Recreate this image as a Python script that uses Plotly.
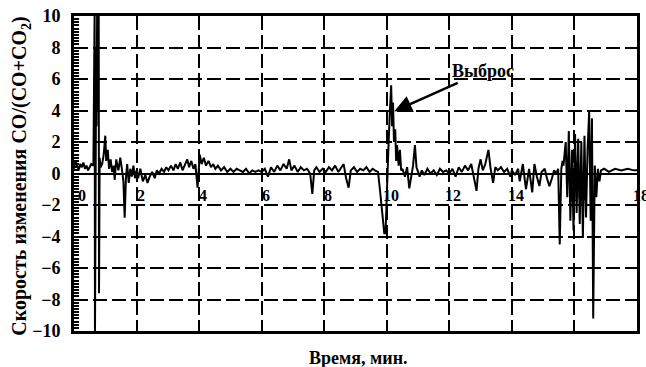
import plotly.graph_objects as go

# Time (min) and rate of change of CO/(CO+CO2)
time_min = [
    0.00, 0.05, 0.10, 0.15, 0.20, 0.25, 0.30, 0.35, 0.40, 0.45, 0.50, 0.55,
    0.62, 0.66, 0.67, 0.69, 0.71, 0.72, 0.74, 0.75, 0.77, 0.79, 0.80, 0.82, 0.85,
    0.90, 0.95, 1.00, 1.03, 1.08, 1.12, 1.17, 1.22, 1.27, 1.30, 1.35, 1.42, 1.48,
    1.53, 1.58, 1.62, 1.66, 1.70, 1.75, 1.80, 1.85, 1.90, 1.95, 2.00,
    2.05, 2.12, 2.20, 2.28, 2.35, 2.42, 2.50, 2.58, 2.65, 2.72, 2.80, 2.88, 2.95,
    3.02, 3.10, 3.18, 3.25, 3.32, 3.40, 3.47, 3.55, 3.62, 3.68, 3.75, 3.82, 3.88,
    3.95, 4.02, 4.08, 4.15, 4.22, 4.30, 4.38, 4.45, 4.52,
    4.60, 4.70, 4.80, 4.90, 5.00, 5.10, 5.20, 5.30, 5.40, 5.50, 5.60, 5.70, 5.80,
    5.90, 6.00,
    6.10, 6.20, 6.30, 6.40, 6.50, 6.60, 6.70, 6.80, 6.88, 6.95, 7.05, 7.15, 7.25,
    7.35, 7.45, 7.55, 7.62, 7.68, 7.75, 7.85, 7.95,
    8.05, 8.15, 8.25, 8.35, 8.45, 8.55, 8.62, 8.70, 8.78, 8.85, 8.95, 9.05, 9.15,
    9.25, 9.35, 9.45, 9.55, 9.62, 9.72, 9.78, 9.85, 9.92, 9.96,
    10.00, 10.05, 10.10, 10.14, 10.17, 10.20, 10.23, 10.27, 10.30, 10.33, 10.38,
    10.42, 10.46, 10.50, 10.58, 10.65, 10.72, 10.78, 10.84, 10.90, 10.95, 11.00,
    11.05, 11.12, 11.20, 11.30, 11.40, 11.50, 11.60, 11.70, 11.80, 11.90, 12.00,
    12.10, 12.20, 12.30, 12.40, 12.50, 12.60, 12.70, 12.80, 12.87, 12.93, 13.00,
    13.07, 13.15, 13.25, 13.32, 13.40, 13.47, 13.55, 13.65, 13.75, 13.85, 13.95,
    14.00, 14.10, 14.20, 14.25, 14.35, 14.45, 14.55, 14.65, 14.72, 14.80, 14.88,
    14.95, 15.05, 15.12, 15.20, 15.28, 15.35, 15.42, 15.48, 15.53, 15.58, 15.62,
    15.65, 15.72, 15.77, 15.82, 15.87, 15.92, 15.97, 16.02, 16.07, 16.12, 16.17,
    16.22, 16.27, 16.32, 16.37, 16.42, 16.47, 16.52, 16.56, 16.60, 16.65, 16.70,
    16.75, 16.80, 16.85, 16.95, 17.10, 17.30, 17.50, 17.70, 17.90, 18.00,
]
rate = [
    0.3, 0.8, 0.5, 0.2, 0.6, 0.4, 0.7, 0.3, 0.5, 0.2, 0.4, 0.6,
    0.5, 10.5, -10.5, 0.8, 8.0, 3.0, 10.5, 4.0, 9.0, 10.5, -7.6, 1.0, 0.4,
    0.6, 1.2, 2.4, 0.8, 1.5, 0.3, 0.9, 0.1, 0.5, -0.4, 0.9, 0.2, 1.0,
    0.3, -0.5, -2.8, -0.3, 0.6, -0.6, 0.3, -0.2, 0.5, -0.3, 0.2,
    -0.3, 0.3, -0.5, -0.1, -0.6, -0.2, 0.1, -0.3, 0.2, 0.0, 0.3, 0.1, 0.4,
    0.2, 0.5, 0.2, 0.6, 0.3, 0.7, 0.2, 0.6, 0.9, 0.4, 0.8, 0.3, 0.6,
    -0.9, 1.2, 0.6, 1.0, 0.5, 0.8, 0.4, 0.6, 0.3,
    0.5, 0.2, 0.4, 0.1, 0.3, 0.1, 0.3, 0.2, 0.1, 0.3, 0.0, 0.2, 0.1,
    0.2, 0.1,
    0.3, -0.2, 0.4, 0.1, 0.5, 0.2, 0.6, 0.3, 0.9, 0.2, 0.5, 0.1, 0.4,
    0.2, 0.3, 0.0, -1.3, 0.2, 0.4, 0.1, 0.3,
    0.1, 0.4, 0.2, 0.5, 0.1, 0.4, 0.6, -0.3, -0.9, 0.2, 0.4, 0.1, 0.3,
    0.2, 0.4, 0.1, 0.3, 0.2, 0.1, -1.0, -2.5, -3.8, -3.8,
    -1.0, 1.5, 4.0, 5.6, 3.0, 4.5, 2.0, 2.8, 0.8, 1.8, 0.5,
    1.5, 0.2, 0.3, -0.2, 0.4, -0.95, -0.2, 0.5, 1.8, 0.4, 0.1,
    -0.2, 0.2, -0.1, 0.3, 0.0, 0.2, -0.1, 0.3, 0.1, 0.2, 0.0,
    0.3, -0.2, 0.4, 0.1, 0.5, 0.2, 0.6, -0.3, -1.1, 0.3, 0.9,
    0.2, 0.6, 1.5, 0.3, -0.6, 0.4, 0.2, 0.4, 0.1, 0.3, -0.2,
    0.2, -0.1, 0.3, -0.5, 0.6, -1.0, 0.3, -1.2, 0.6, -0.2, -0.8,
    0.1, 0.3, -0.3, -0.8, -0.3, 0.2, 0.0, 0.3, -4.5, 0.3, 0.8,
    0.5, 2.0, -1.5, 2.7, -3.0, 1.5, -3.6, 2.5, -2.5, 2.2, -3.2,
    2.0, -4.1, 2.4, -2.8, 1.5, 3.9, -3.0, 3.5, -9.2, 0.5, -1.5,
    0.3, -0.5, 0.2, 0.3, 0.1, 0.3, 0.2, 0.3, 0.2, 0.2,
]

x_ticks = [0, 2, 4, 6, 8, 10, 12, 14, 16, 18]
y_ticks = [-10, -8, -6, -4, -2, 0, 2, 4, 6, 8, 10]

SERIF = "Liberation Serif"

fig = go.Figure()
fig.add_trace(go.Scatter(
    x=time_min, y=rate, mode="lines",
    line=dict(color="black", width=2),
    showlegend=False, hoverinfo="skip",
))

# x tick labels sit inside the plot, just above the -2 grid line
for t in x_ticks:
    fig.add_annotation(
        x=t, y=-2, xref="x", yref="y", text=str(t), showarrow=False,
        xanchor="center", yanchor="bottom", xshift=8 if t == 0 else 4, yshift=-1,
        font=dict(family=SERIF, size=16, color="black", weight="bold"),
    )

# Outburst label, arrow pointing at the peak near 10 min
fig.add_annotation(
    x=10.24, y=3.95, xref="x", yref="y", text="Выброс", showarrow=True,
    ax=89, ay=-40, arrowhead=2, arrowsize=1.4, arrowwidth=2.5, arrowcolor="black",
    font=dict(family=SERIF, size=18, color="black", weight="bold"),
)

# Axis titles
fig.add_annotation(
    x=-0.094, y=0.49, xref="paper", yref="paper",
    text="Скорость изменения CO/(CO+CO<sub>2</sub>)", textangle=-90,
    showarrow=False, xanchor="center", yanchor="middle",
    font=dict(family=SERIF, size=20, color="black", weight="bold"),
)
fig.add_annotation(
    x=0.505, y=-0.086, xref="paper", yref="paper", text="Время, мин.",
    showarrow=False, xanchor="center", yanchor="middle",
    font=dict(family=SERIF, size=18, color="black", weight="bold"),
)

fig.update_xaxes(
    range=[0, 18], tickvals=x_ticks, showticklabels=False, ticks="",
    showgrid=True, gridcolor="black", gridwidth=2, griddash="14px,5px",
    zeroline=False, showline=True, linecolor="black", linewidth=3, mirror=True,
)
fig.update_yaxes(
    range=[-10, 10], tickvals=y_ticks, ticks="inside", ticklen=5,
    tickwidth=1.5, tickcolor="black", ticklabelstandoff=7,
    tickfont=dict(family=SERIF, size=18, color="black", weight="bold"),
    minor=dict(dtick=0.2, ticks="inside", ticklen=5, tickwidth=1.5,
               tickcolor="black", showgrid=False),
    showgrid=True, gridcolor="black", gridwidth=2, griddash="14px,5px",
    zeroline=True, zerolinecolor="black", zerolinewidth=2,
    showline=True, linecolor="black", linewidth=3, mirror=True,
)

fig.update_layout(
    width=646, height=367,
    margin=dict(l=74, r=6, t=16, b=36),
    paper_bgcolor="white", plot_bgcolor="white",
)

fig.write_html("out.html")
